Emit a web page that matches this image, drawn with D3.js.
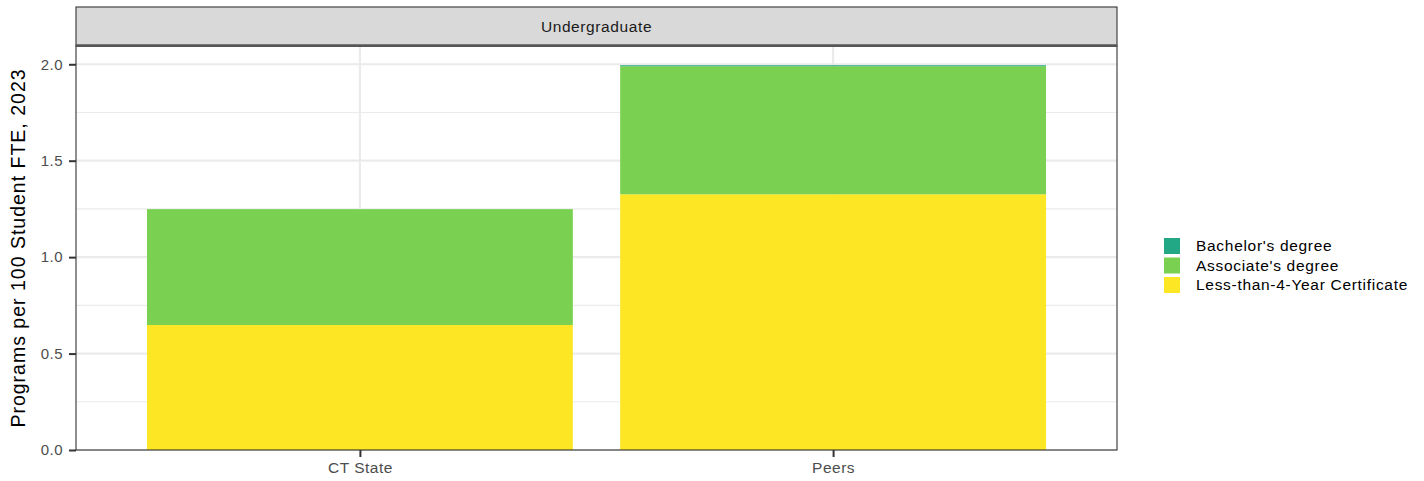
<!DOCTYPE html>
<html><head><meta charset="utf-8">
<script src="https://cdn.jsdelivr.net/npm/d3@7"></script>
<style>body{margin:0;background:#fff;} text{font-family:Arial,"Liberation Sans",sans-serif;}</style>
</head><body><svg id="c" width="1424" height="481"></svg>
<script>
const categories = ["CT State", "Peers"];
const seriesNames = ["Less-than-4-Year Certificate", "Associate's degree", "Bachelor's degree"];
const certificate = [0.648, 1.326];
const associate = [0.601, 0.664];
const bachelor = [0.0, 0.005];
const colors = ["#FDE725", "#7AD151", "#22A884"];
const yTicks = [0, 0.5, 1.0, 1.5, 2.0];
const legendOrder = ["Bachelor's degree", "Associate's degree", "Less-than-4-Year Certificate"];
const panelTitle = "Undergraduate";
const yTitle = "Programs per 100 Student FTE, 2023";

const FONT = "Arial, 'Liberation Sans', sans-serif";
const svg = d3.select("#c");
const L = 76, R = 1117, T = 46, B = 450;
const rows = categories.map((c,i)=>({cat:c, "Less-than-4-Year Certificate":certificate[i], "Associate's degree":associate[i], "Bachelor's degree":bachelor[i]}));
const stack = d3.stack().keys(seriesNames)(rows);
const maxV = d3.max(rows, r => r[seriesNames[0]]+r[seriesNames[1]]+r[seriesNames[2]]);
const y = d3.scaleLinear().domain([0, maxV*1.05]).range([B, T]);
const step = (R-L)/2.2;
const xc = d3.scalePoint().domain(categories).range([L+0.6*step, L+1.6*step]);
const bw = step*0.9;
const color = d3.scaleOrdinal().domain(seriesNames).range(colors);

// grid
const g = svg.append("g");
const minor = [0.25, 0.75, 1.25, 1.75];
g.selectAll(".mn").data(minor).enter().append("line")
  .attr("x1",L).attr("x2",R).attr("y1",d=>y(d)).attr("y2",d=>y(d))
  .attr("stroke","#EBEBEB").attr("stroke-width",1.1);
g.selectAll(".mj").data(yTicks).enter().append("line")
  .attr("x1",L).attr("x2",R).attr("y1",d=>y(d)).attr("y2",d=>y(d))
  .attr("stroke","#EBEBEB").attr("stroke-width",2.2);
g.selectAll(".vx").data(categories).enter().append("line")
  .attr("x1",d=>xc(d)).attr("x2",d=>xc(d)).attr("y1",T).attr("y2",B)
  .attr("stroke","#EBEBEB").attr("stroke-width",2.2);

// bars
svg.append("g").selectAll("g").data(stack).enter().append("g")
  .attr("fill", d=>color(d.key))
  .selectAll("rect").data(d=>d).enter().append("rect")
  .attr("x", d=>xc(d.data.cat)-bw/2).attr("width", bw)
  .attr("y", d=>y(d[1])).attr("height", d=>Math.max(0, y(d[0])-y(d[1])));

// panel border
svg.append("rect").attr("x",L).attr("y",T).attr("width",R-L).attr("height",B-T)
  .attr("fill","none").attr("stroke","#333333").attr("stroke-width",1.1);
// strip
svg.append("rect").attr("x",L).attr("y",7).attr("width",R-L).attr("height",T-7)
  .attr("fill","#D9D9D9").attr("stroke","#333333").attr("stroke-width",1.1);
svg.append("line").attr("x1",L).attr("x2",R).attr("y1",T-0.5).attr("y2",T-0.5).attr("stroke","#555").attr("stroke-width",2.5);
svg.append("text").attr("x",(L+R)/2).attr("y",27).attr("dy","0.35em").attr("text-anchor","middle")
  .attr("font-size",15.5).attr("letter-spacing",0.6).attr("fill","#1A1A1A").text(panelTitle);

// axes
const ya = d3.axisLeft(y).tickValues(yTicks).tickFormat(d3.format(".1f")).tickSize(7).tickPadding(6);
const yg = svg.append("g").attr("transform",`translate(${L},0)`).call(ya);
yg.select(".domain").remove();
yg.selectAll(".tick line").attr("stroke","#333").attr("stroke-width",2);
yg.selectAll(".tick text").attr("fill","#4D4D4D").attr("font-size",15).attr("letter-spacing",0.5).style("font-family",FONT);

const xa = d3.axisBottom(xc).tickSize(7).tickPadding(5);
const xg = svg.append("g").attr("transform",`translate(0,${B})`).call(xa);
xg.select(".domain").remove();
xg.selectAll(".tick line").attr("stroke","#333").attr("stroke-width",2);
xg.selectAll(".tick text").attr("fill","#4D4D4D").attr("font-size",15.5).attr("letter-spacing",0.5).style("font-family",FONT);

svg.append("text").attr("transform",`translate(18,${(T+B)/2}) rotate(-90)`).attr("text-anchor","middle")
  .attr("dy","0.35em").attr("font-size",19.5).attr("letter-spacing",1).attr("fill","#000").text(yTitle);

// legend
const lg = svg.append("g").attr("transform","translate(1164,238)");
legendOrder.forEach((k,i)=>{
  lg.append("rect").attr("x",0).attr("y",i*19.5).attr("width",16).attr("height",16).attr("fill",color(k));
  lg.append("text").attr("x",32).attr("y",i*19.5+8).attr("dy","0.35em").attr("font-size",15.5).attr("letter-spacing",0.7).attr("fill","#000").text(k);
});
</script></body></html>
